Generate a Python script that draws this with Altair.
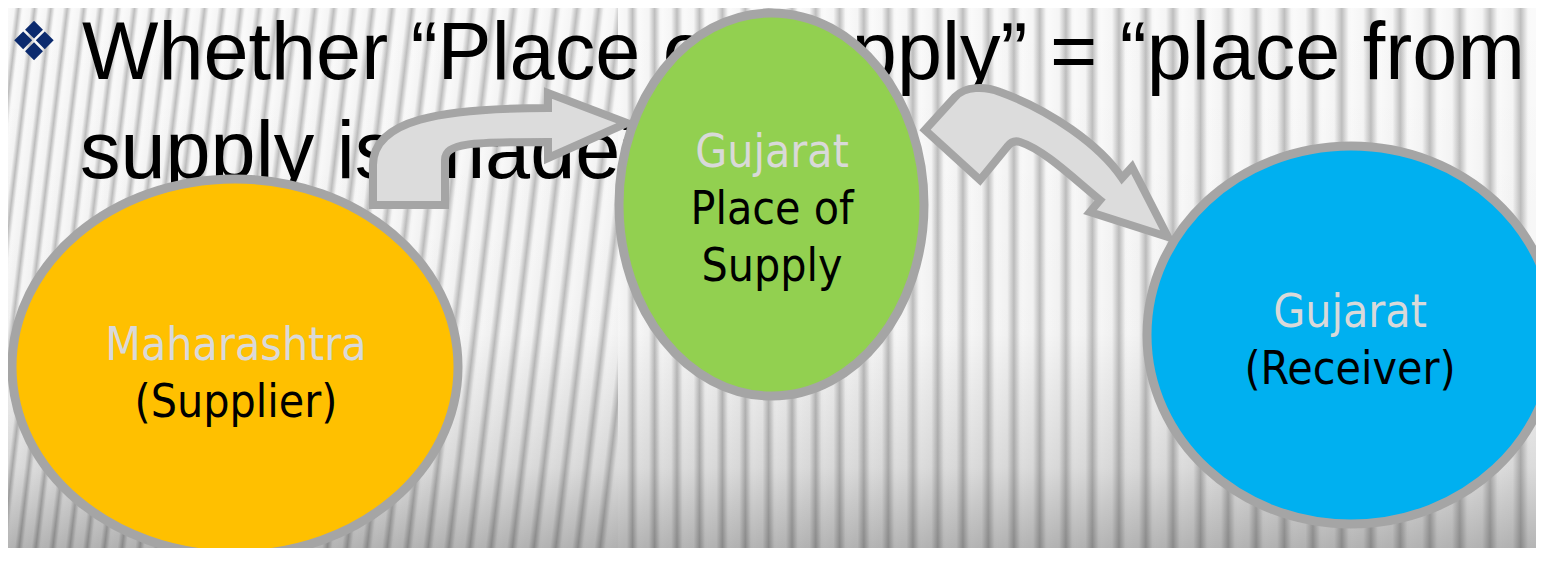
import altair as alt
import pandas as pd

# ---------------- data ----------------
title_lines = ["Whether \u201cPlace of Supply\u201d = \u201cplace from", "supply is made\u201d"]
bullet = "\u2756"
node_states = ["Maharashtra", "Gujarat", "Gujarat"]
node_roles = [["(Supplier)"], ["Place of", "Supply"], ["(Receiver)"]]

# ---------------- layout / style ----------------
W, H = 1528, 540
OX, OY = 8, 8
node_cx = [235, 771.5, 1351]
node_cy = [367, 204.5, 335]
node_rx = [223, 152.5, 204]
node_ry = [188, 191.5, 189]
node_fill = ["#FFC000", "#92D050", "#00B0F0"]
label_x = [236, 772, 1350]
label_y0 = [360, 167, 327]
label_dy = 57
title_x = [82, 80]
title_y = [79, 178]
arrow_anchor_x = [500, 1045]
arrow_anchor_y = [150, 160]
arrow_paths = [
    "M -127 55 L -127 15 C -127 -30 -60 -42 48 -42 L 48 -57 L 127 -27 L 48 8 L 48 -8 "
    "C -30 -8 -55 -7 -55 10 L -55 55 Z",
    "M -120 -30 L -90 -63 C -80 -74 -60 -74 -45 -68 C 5 -50 55 -15 77 18 L 87 7 L 123 77 "
    "L 45 52 L 55 40 C 30 20 0 -10 -25 -18 C -31 -20 -35 -17 -38 -13 L -65 20 Z",
]
EDGE = "#A5A5A5"
LABEL_FONT = "'DejaVu Sans Condensed', 'Liberation Sans', sans-serif"


def ellipse_path(rx, ry):
    k = 0.5523
    return (f"M {rx} 0 C {rx} {k*ry:.2f} {k*rx:.2f} {ry} 0 {ry} "
            f"C {-k*rx:.2f} {ry} {-rx} {k*ry:.2f} {-rx} 0 "
            f"C {-rx} {-k*ry:.2f} {-k*rx:.2f} {-ry} 0 {-ry} "
            f"C {k*rx:.2f} {-ry} {rx} {-k*ry:.2f} {rx} 0 Z")


def stripe_gradient(x0, x1, slope):
    """Striped texture for the band x0..x1 (chart px)."""
    wseg = x1 - x0
    t = slope * H / wseg
    a = (1 + t) / (1 + t * t)
    span = wseg * (1 + t)
    stops, pos = [], 0.0
    while pos < span:
        p = 16 + 15 * (x0 + pos) / W
        for f, c in [(0.0, "#FAFAFA"), (0.4, "#F5F5F5"), (0.66, "#BEBEBE"), (0.9, "#F7F7F7")]:
            o = (pos + f * p) / span
            if o <= 1:
                stops.append({"offset": round(o, 5), "color": c})
        pos += p
    return {"gradient": "linear", "x1": 0, "y1": 0, "x2": round(a, 5), "y2": round(a * t, 5),
            "stops": stops}


shade_grad = {"gradient": "linear", "x1": 0, "y1": 0, "x2": 0, "y2": 1, "stops": [
    {"offset": 0, "color": "rgba(0,0,0,0)"},
    {"offset": 0.6, "color": "rgba(0,0,0,0.02)"},
    {"offset": 0.85, "color": "rgba(0,0,0,0.12)"},
    {"offset": 1, "color": "rgba(0,0,0,0.28)"},
]}

xs = alt.Scale(domain=[OX, OX + W], nice=False, zero=False)
ys = alt.Scale(domain=[OY, OY + H], reverse=True, nice=False, zero=False)
X = lambda f="x": alt.X(f"{f}:Q", scale=xs, axis=None)
Y = lambda f="y": alt.Y(f"{f}:Q", scale=ys, axis=None)

one = pd.DataFrame({"k": [0]})
SEAM = 610
bg_left = alt.Chart(one).mark_rect(fill=stripe_gradient(0, SEAM, 0.12)).encode(
    x=alt.value(0), x2=alt.value(SEAM), y=alt.value(0), y2=alt.value(H))
bg_right = alt.Chart(one).mark_rect(fill=stripe_gradient(SEAM, W, 0.0)).encode(
    x=alt.value(SEAM), x2=alt.value(W), y=alt.value(0), y2=alt.value(H))
shade = alt.Chart(one).mark_rect(fill=shade_grad).encode(
    x=alt.value(0), x2=alt.value(W), y=alt.value(0), y2=alt.value(H))

title_df = pd.DataFrame({"t": title_lines, "x": title_x, "y": title_y})
title = alt.Chart(title_df).mark_text(
    font="Liberation Sans", fontSize=81, align="left", baseline="alphabetic", color="#000000"
).encode(x=X(), y=Y(), text="t:N")

bullet_df = pd.DataFrame({"t": [bullet], "x": [34], "y": [44]})
bul = alt.Chart(bullet_df).mark_text(
    font="DejaVu Sans", fontSize=54, align="center", baseline="middle", color="#0B2A6E"
).encode(x=X(), y=Y(), text="t:N")

arrow_df = pd.DataFrame({"x": arrow_anchor_x, "y": arrow_anchor_y, "shape": arrow_paths})
arrows = alt.Chart(arrow_df).mark_point(
    size=4, filled=True, fill="#DCDCDC", stroke=EDGE, strokeWidth=8,
    opacity=1, fillOpacity=1, strokeOpacity=1, strokeJoin="miter"
).encode(x=X(), y=Y(), shape=alt.Shape("shape:N", scale=None))

node_df = pd.DataFrame({
    "name": node_states, "x": node_cx, "y": node_cy, "fill": node_fill,
    "shape": [ellipse_path(a, b) for a, b in zip(node_rx, node_ry)],
})
nodes = alt.Chart(node_df).mark_point(
    size=4, filled=True, stroke=EDGE, strokeWidth=9, opacity=1, fillOpacity=1, strokeOpacity=1
).encode(x=X(), y=Y(), shape=alt.Shape("shape:N", scale=None),
         fill=alt.Fill("fill:N", scale=None))

rows = []
for i, st in enumerate(node_states):
    rows.append({"t": st, "x": label_x[i], "y": label_y0[i], "c": "#D9D9D9"})
    for j, r in enumerate(node_roles[i]):
        rows.append({"t": r, "x": label_x[i], "y": label_y0[i] + label_dy * (j + 1), "c": "#000000"})
lab_df = pd.DataFrame(rows)
labels = alt.Chart(lab_df).mark_text(
    font=LABEL_FONT, fontSize=46, align="center", baseline="alphabetic"
).encode(x=X(), y=Y(), text="t:N", color=alt.Color("c:N", scale=None))

chart = alt.layer(bg_left, bg_right, shade, title, bul, arrows, nodes, labels).properties(
    width=W, height=H, padding=0, autosize=alt.AutoSizeParams(type="none")
).configure_view(stroke=None)

chart.save("out.html", embed_options={"renderer": "svg", "actions": False})
